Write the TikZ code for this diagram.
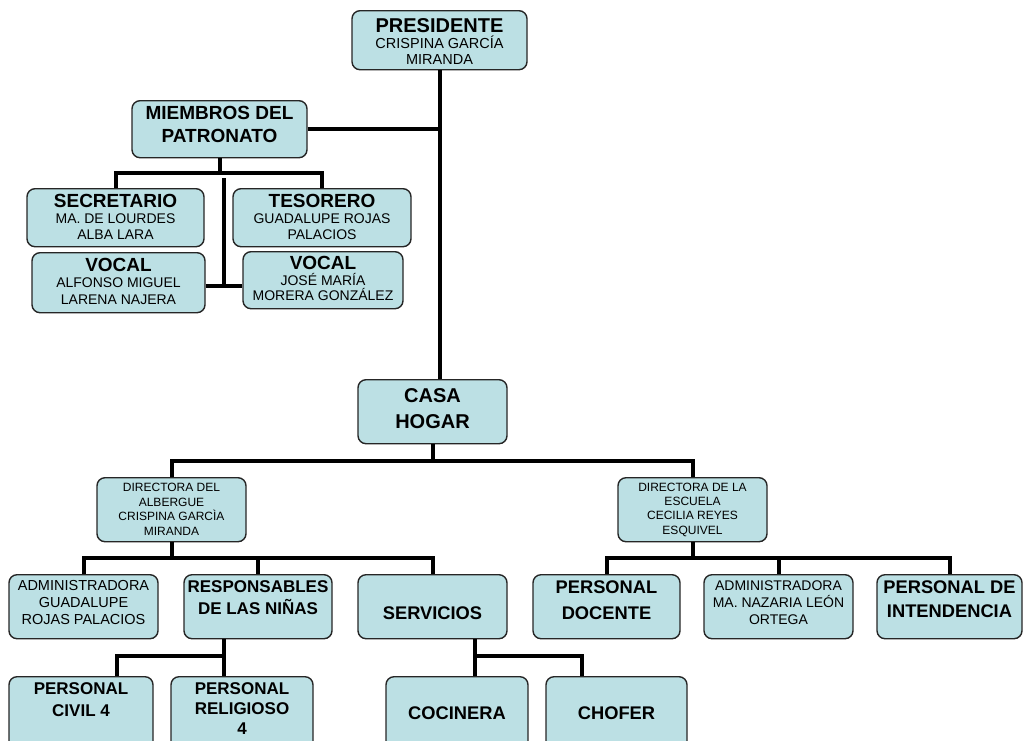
\documentclass[tikz,border=0pt]{standalone}
\usepackage{fontspec}
\setmainfont{Liberation Sans}
\usetikzlibrary{positioning}
\definecolor{boxfill}{RGB}{188,224,228}

\begin{document}
\begin{tikzpicture}
  [x=1pt,y=-1pt,
   unit/.style={rectangle,rounded corners=8pt,draw=black!85,line width=1.4pt,fill=boxfill,inner sep=0pt,align=center,anchor=north},
   dims/.style n args={3}{minimum width=#1pt,text height=#2pt,text depth=#3pt},
   link/.style={line width=4pt}]
  \useasboundingbox (0,0) rectangle (1028,740);
  \clip (0,0) rectangle (1028,740);
  \node[unit,dims={175}{54}{5},font=\fontsize{14.5}{16}\selectfont] (presidente) at (439.5,10) {{\bfseries\fontsize{20}{20}\selectfont PRESIDENTE}\\CRISPINA GARCÍA\\MIRANDA};
  \node[unit,dims={175}{41.7}{15.3},font=\fontsize{19}{23.4}\selectfont\bfseries] (miembros) at (219.5,100) {MIEMBROS DEL\\PATRONATO};
  \node[unit,dims={177}{50.3}{7.7},font=\fontsize{14}{15.8}\selectfont] (secretario) at (115.5,188) {{\bfseries\fontsize{19}{19}\selectfont SECRETARIO}\\MA. DE LOURDES\\ALBA LARA};
  \node[unit,dims={178}{50.3}{7.7},font=\fontsize{14}{15.8}\selectfont] (tesorero) at (322,188) {{\bfseries\fontsize{19}{19}\selectfont TESORERO}\\GUADALUPE ROJAS\\PALACIOS};
  \node[unit,dims={173}{51.3}{8.7},font=\fontsize{14}{16.5}\selectfont] (vocal1) at (118.5,252) {{\bfseries\fontsize{19}{19}\selectfont VOCAL}\\ALFONSO MIGUEL\\LARENA NAJERA};
  \node[unit,dims={160}{49}{8},font=\fontsize{14}{15.4}\selectfont] (vocal2) at (323,251) {{\bfseries\fontsize{19}{19}\selectfont VOCAL}\\JOSÉ MARÍA\\MORERA GONZÁLEZ};
  \node[unit,dims={149}{48.3}{15.7},font=\fontsize{20}{25.6}\selectfont\bfseries] (casa) at (432.5,379) {CASA\\HOGAR};
  \node[unit,dims={149}{57.3}{6.7},font=\fontsize{12}{14.5}\selectfont] (albergue) at (171.5,477) {DIRECTORA DEL\\ALBERGUE\\CRISPINA GARCÌA\\MIRANDA};
  \node[unit,dims={149}{56.3}{7.7},font=\fontsize{12}{14.3}\selectfont] (escuela) at (692.5,477) {DIRECTORA DE LA\\ESCUELA\\CECILIA REYES\\ESQUIVEL};
  \node[unit,dims={149}{50}{14},font=\fontsize{14.5}{17}\selectfont] (admin1) at (83.5,574) {ADMINISTRADORA\\GUADALUPE\\ROJAS PALACIOS};
  \node[unit,dims={148}{39.3}{24.7},font=\fontsize{17}{21.6}\selectfont\bfseries] (responsables) at (258,574) {RESPONSABLES\\DE LAS NIÑAS};
  \node[unit,dims={149}{44.3}{19.7},font=\fontsize{18.3}{22}\selectfont\bfseries] (servicios) at (432.5,574) {SERVICIOS};
  \node[unit,dims={147}{44.3}{19.7},font=\fontsize{18.3}{25.6}\selectfont\bfseries] (docente) at (606.5,574) {PERSONAL\\DOCENTE};
  \node[unit,dims={149}{49.3}{14.7},font=\fontsize{14}{16.7}\selectfont] (admin2) at (778.5,574) {ADMINISTRADORA\\MA. NAZARIA LEÓN\\ORTEGA};
  \node[unit,dims={145}{42.7}{21.3},font=\fontsize{18.3}{24}\selectfont\bfseries] (intendencia) at (949.5,574) {PERSONAL DE\\INTENDENCIA};
  \node[unit,dims={144}{40}{44},font=\fontsize{17}{22.7}\selectfont\bfseries] (civil) at (81,676) {PERSONAL\\CIVIL 4};
  \node[unit,dims={142}{57.3}{26.7},font=\fontsize{17}{20}\selectfont\bfseries] (religioso) at (242,676) {PERSONAL\\RELIGIOSO\\4};
  \node[unit,dims={142}{42.3}{41.7},font=\fontsize{18.3}{22}\selectfont\bfseries] (cocinera) at (457,676) {COCINERA};
  \node[unit,dims={141}{42.3}{41.7},font=\fontsize{18.3}{22}\selectfont\bfseries] (chofer) at (616.5,676) {CHOFER};
  \coordinate (vocaltop) at (224,178);
  \coordinate (vocaljoin) at (224,286);
  \coordinate (respfork) at (224,656);
  \coordinate (servfork) at (475,656);
  \draw[link] (presidente.south) -- (presidente.south |- casa.north);
  \draw[link] (miembros.east) -- (miembros.east -| presidente.south);
  \draw[link] (miembros.south) -- ++(0,15);
  \draw[link] (secretario.north) |- ([yshift=-15pt]miembros.south) -| (tesorero.north);
  \draw[link] (vocaltop) -- (vocaljoin);
  \draw[link] (vocal1.east |- vocaljoin) -- (vocal2.west |- vocaljoin);
  \draw[link] (casa.south) -- ++(0,17);
  \draw[link] (albergue.north) |- ([yshift=-17pt]casa.south) -| (escuela.north);
  \draw[link] (albergue.south) -- ++(0,16);
  \draw[link] (admin1.north) |- ([yshift=-16pt]albergue.south) -| (servicios.north);
  \draw[link] (responsables.north) -- ++(0,-17);
  \draw[link] (escuela.south) -- ++(0,16);
  \draw[link] (docente.north) |- ([yshift=-16pt]escuela.south) -| (intendencia.north);
  \draw[link] (admin2.north) -- ++(0,-17);
  \draw[link] (respfork |- responsables.south) -- (respfork |- religioso.north);
  \draw[link] (respfork) -| ([xshift=36pt]civil.north);
  \draw[link] (servfork |- servicios.south) -- (servfork |- cocinera.north);
  \draw[link] (servfork) -| ([xshift=-34.5pt]chofer.north);
\end{tikzpicture}
\end{document}
